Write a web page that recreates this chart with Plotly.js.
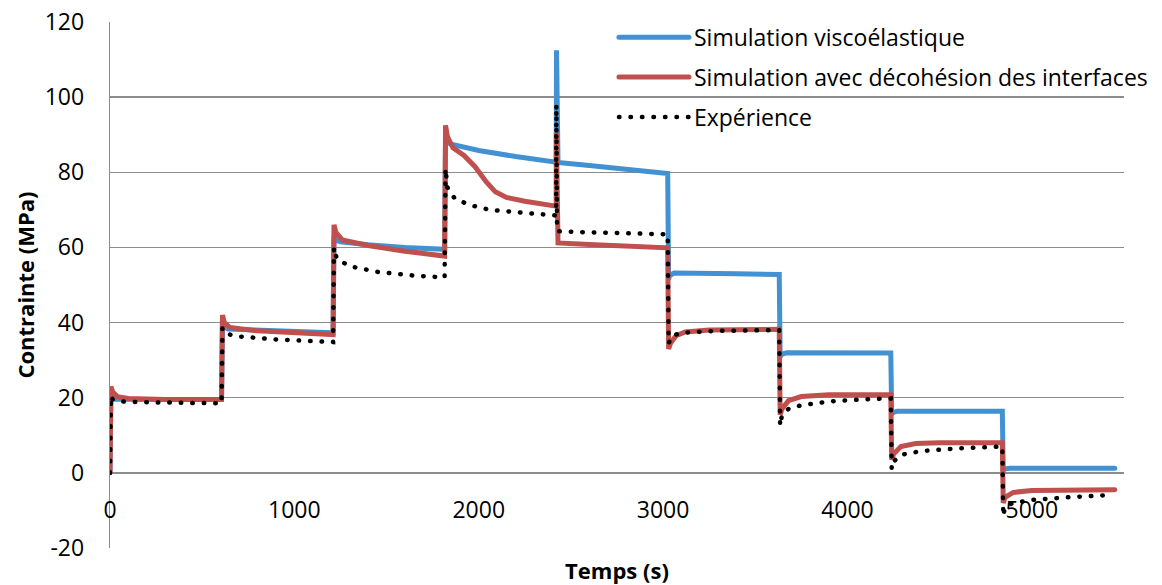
<!DOCTYPE html>
<html>
<head>
<meta charset="utf-8">
<script src="https://cdn.plot.ly/plotly-3.0.1.min.js"></script>
<style>
html,body{margin:0;padding:0;background:#fff;}
#chart{width:1162px;height:585px;}
#chart .js-line{stroke-linecap:round;}
</style>
</head>
<body>
<div id="chart"></div>
<script>
// Simulation viscoélastique
const tVisco = [0, 5, 10, 30, 100, 300, 605,
  610, 615, 640, 800, 1000, 1210,
  1215, 1220, 1250, 1400, 1600, 1815,
  1820, 1825, 1850, 2000, 2200, 2420,
  2422, 2426, 2430, 2600, 2800, 3025,
  3030, 3035, 3060, 3200, 3400, 3630,
  3635, 3640, 3670, 3800, 4000, 4235,
  4240, 4245, 4270, 4500, 4840,
  4845, 4850, 4880, 5100, 5450];
const sVisco = [0, 21, 20, 19.6, 19.5, 19.5, 19.6,
  40.5, 39, 38.3, 38, 37.7, 37.3,
  63, 62, 61.5, 60.7, 60, 59.5,
  89, 88, 87.5, 85.8, 84.2, 82.7,
  112.5, 83, 82.6, 81.8, 80.8, 79.7,
  51.5, 52.5, 53.2, 53.2, 53.0, 52.8,
  30.8, 31.5, 32, 32, 32, 31.9,
  15.5, 16, 16.4, 16.4, 16.4,
  0.5, 1, 1.2, 1.2, 1.2];

// Simulation avec décohésion des interfaces
const tDecoh = [0, 5, 15, 40, 100, 300, 605,
  610, 620, 650, 800, 1000, 1210,
  1215, 1225, 1260, 1400, 1600, 1815,
  1820, 1830, 1860, 1920, 1980, 2040, 2090, 2150, 2250, 2420,
  2421, 2424, 2430, 2600, 2800, 3025,
  3030, 3040, 3070, 3120, 3250, 3630,
  3635, 3645, 3680, 3750, 3900, 4235,
  4240, 4250, 4290, 4370, 4500, 4840,
  4845, 4855, 4900, 5000, 5450];
const sDecoh = [0, 23, 21.5, 20.3, 19.8, 19.5, 19.5,
  42, 40, 38.7, 37.8, 37.3, 36.8,
  66, 64, 62, 60.5, 59, 57.7,
  92.5, 89.5, 86.5, 84.5, 81.5, 77.5, 74.8, 73.3, 72.3, 71,
  90.5, 61.5, 61.2, 60.8, 60.4, 59.9,
  33, 34.5, 36.5, 37.5, 38, 38.2,
  15.5, 17, 19.2, 20.3, 20.8, 20.8,
  3.5, 5, 7, 7.8, 8, 8,
  -8, -6.5, -5.2, -4.7, -4.5];

// Expérience
const tExp = [0, 5, 15, 50, 200, 400, 605,
  610, 630, 700, 900, 1210,
  1215, 1230, 1300, 1450, 1650, 1815,
  1820, 1830, 1870, 1950, 2060, 2250, 2420,
  2421, 2425, 2600, 2800, 3025,
  3030, 3050, 3100, 3300, 3630,
  3635, 3645, 3680, 3750, 3900, 4100, 4235,
  4240, 4250, 4290, 4400, 4600, 4840,
  4845, 4855, 4900, 5000, 5200, 5385];
const sExp = [0, 20.5, 19.5, 19, 18.8, 18.6, 18.5,
  38.5, 37, 36.3, 35.5, 34.8,
  60, 57, 55, 53.5, 52.5, 52,
  81, 76, 73, 71.3, 70, 69.2, 68.5,
  98, 64.3, 64, 63.8, 63.5,
  34.5, 36.5, 37.3, 37.8, 38,
  12.5, 15.5, 17, 18, 19, 19.6, 19.8,
  1, 3, 4.8, 5.8, 6.5, 7,
  -11.5, -9, -8, -7.2, -6.5, -6];

const xTicks = [0, 1000, 2000, 3000, 4000, 5000];
const yTicks = [-20, 0, 20, 40, 60, 80, 100, 120];

const FONT = '"Open Sans", Lato, sans-serif';
const GRID = '#8c8c8c';

const traces = [
  {x: tVisco, y: sVisco, mode: 'lines', name: 'Simulation viscoélastique',
   legendgroup: 'a', line: {color: '#4291D3', width: 5}},
  {x: tDecoh, y: sDecoh, mode: 'lines', name: 'Simulation avec décohésion des interfaces',
   legendgroup: 'b', line: {color: '#C0504D', width: 5}},
  {x: tExp, y: sExp, mode: 'lines', name: 'Expérience',
   legendgroup: 'c', line: {color: '#000000', width: 4.5, dash: '0.5px,11px'}}
];

const layout = {
  width: 1162, height: 585,
  margin: {l: 110, r: 38, t: 22, b: 37, autoexpand: false},
  paper_bgcolor: '#fff', plot_bgcolor: '#fff',
  font: {family: FONT, size: 23, color: '#000'},
  showlegend: true,
  legend: {x: 0.497, y: 1.012, xanchor: 'left', yanchor: 'top',
    bgcolor: 'rgba(0,0,0,0)', font: {family: FONT, size: 23, color: '#000'},
    tracegroupgap: 7, itemwidth: 70, traceorder: 'grouped'},
  xaxis: {range: [0, 5500], tickvals: xTicks, ticktext: xTicks.map(String),
    anchor: 'free', position: 0.1426, showgrid: false, zeroline: false,
    showline: false, ticks: '', ticklabelstandoff: 21,
    tickfont: {family: FONT, size: 23},
    title: {text: 'Temps (s)', font: {family: FONT, size: 22, weight: 'bold'}, standoff: 44}},
  yaxis: {range: [-20, 120], tickvals: yTicks, ticktext: yTicks.map(String),
    showgrid: true, gridcolor: GRID, gridwidth: 1.3, zeroline: false,
    showline: true, linecolor: GRID, linewidth: 1.3, ticks: '', ticklabelstandoff: 20,
    tickfont: {family: FONT, size: 23},
    title: {text: 'Contrainte (MPa)', font: {family: FONT, size: 22, weight: 'bold'}, standoff: 4}}
};

Plotly.newPlot('chart', traces, layout, {staticPlot: true, displayModeBar: false});
</script>
</body>
</html>
